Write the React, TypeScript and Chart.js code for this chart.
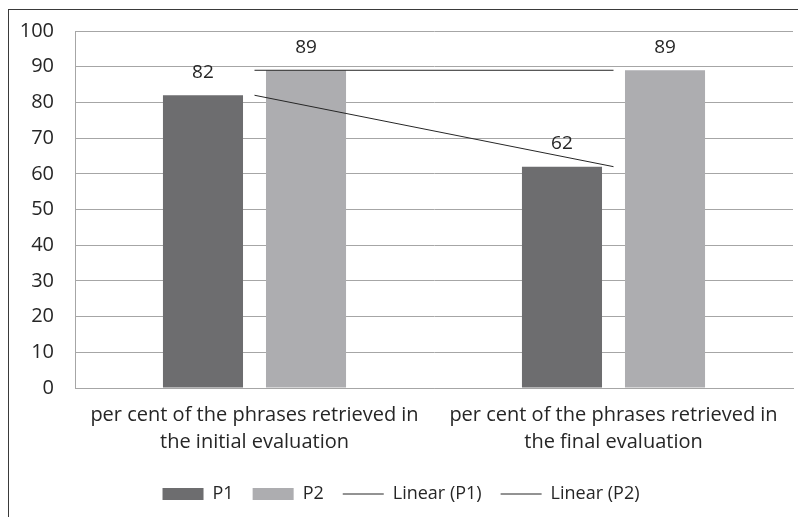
import React, { useEffect, useRef } from "react";
import { Chart, registerables } from "chart.js";

Chart.register(...registerables);

const categories: string[][] = [
  ["per cent of the phrases retrieved in", "the initial evaluation"],
  ["per cent of the phrases retrieved in", "the final evaluation"],
];
const p1Values = [82, 62];
const p2Values = [89, 89];
const linearP1 = [82, 62];
const linearP2 = [89, 89];
const yTicks = [0, 10, 20, 30, 40, 50, 60, 70, 80, 90, 100];

const FONT = "'Open Sans', sans-serif";

const valueLabels = {
  id: "valueLabels",
  afterDatasetsDraw(chart: any) {
    const ctx = chart.ctx;
    ctx.save();
    ctx.font = `19px ${FONT}`;
    ctx.fillStyle = "#262626";
    ctx.textAlign = "center";
    ctx.textBaseline = "middle";
    [0, 1].forEach((di) => {
      const meta = chart.getDatasetMeta(di);
      meta.data.forEach((el: any, i: number) => {
        const v = chart.data.datasets[di].data[i];
        ctx.fillText(String(v), el.x, el.y - 23);
      });
    });
    ctx.restore();
  },
};

export default function App() {
  const ref = useRef<HTMLCanvasElement | null>(null);
  useEffect(() => {
    if (!ref.current) return;
    const chart = new Chart(ref.current, {
      type: "bar",
      data: {
        labels: categories as any,
        datasets: [
          {
            type: "bar",
            label: "P1",
            data: p1Values,
            backgroundColor: "#6d6d6f",
            borderWidth: 0,
            pointStyle: "rect",
            categoryPercentage: 0.574,
            barPercentage: 0.777,
            order: 1,
          } as any,
          {
            type: "bar",
            label: "P2",
            data: p2Values,
            backgroundColor: "#adadb0",
            borderWidth: 0,
            pointStyle: "rect",
            categoryPercentage: 0.574,
            barPercentage: 0.777,
            order: 1,
          } as any,
          {
            type: "line",
            label: "Linear (P1)",
            data: linearP1,
            borderColor: "#262626",
            backgroundColor: "#262626",
            borderWidth: 1,
            pointRadius: 0,
            pointStyle: "line",
            fill: false,
            tension: 0,
            order: 0,
          } as any,
          {
            type: "line",
            label: "Linear (P2)",
            data: linearP2,
            borderColor: "#262626",
            backgroundColor: "#262626",
            borderWidth: 1,
            pointRadius: 0,
            pointStyle: "line",
            fill: false,
            tension: 0,
            order: 0,
          } as any,
        ],
      },
      options: {
        responsive: false,
        animation: false,
        devicePixelRatio: 1,
        layout: { padding: { top: 21, right: 5, left: 0, bottom: 4 } },
        plugins: {
          tooltip: { enabled: false },
          legend: {
            position: "bottom",
            labels: {
              usePointStyle: true,
              pointStyleWidth: 41,
              boxHeight: 12,
              padding: 19,
              color: "#262626",
              font: { family: FONT, size: 18 },
              sort: (a: any, b: any) => a.datasetIndex - b.datasetIndex,
            },
          },
        },
        scales: {
          x: {
            grid: { display: false, drawTicks: false },
            border: { display: true, color: "#a6a6a6", width: 1 },
            ticks: {
              color: "#262626",
              font: { family: FONT, size: 20, lineHeight: 1.35 },
              padding: 14,
              maxRotation: 0,
              autoSkip: false,
            },
            afterFit: (s: any) => {
              s.height = 78;
            },
          },
          y: {
            min: 0,
            max: 100,
            grid: { color: "#a6a6a6", lineWidth: 1, drawTicks: false },
            border: { display: true, color: "#a6a6a6", width: 1 },
            afterBuildTicks: (s: any) => {
              s.ticks = yTicks.map((v) => ({ value: v }));
            },
            ticks: {
              color: "#262626",
              font: { family: FONT, size: 20 },
              padding: 21,
            },
            afterFit: (s: any) => {
              s.width = 66;
              s.paddingTop = 0;
            },
          },
        },
      },
      plugins: [valueLabels],
    });
    return () => chart.destroy();
  }, []);
  return (
    <div
      style={{
        position: "fixed",
        left: 8,
        top: 9,
        width: 790,
        height: 508,
        borderTop: "1px solid #3a3a3a",
        borderLeft: "1px solid #3a3a3a",
        boxSizing: "border-box",
        background: "#fff",
      }}
    >
      <canvas ref={ref} width={789} height={507} style={{ display: "block" }} />
    </div>
  );
}
